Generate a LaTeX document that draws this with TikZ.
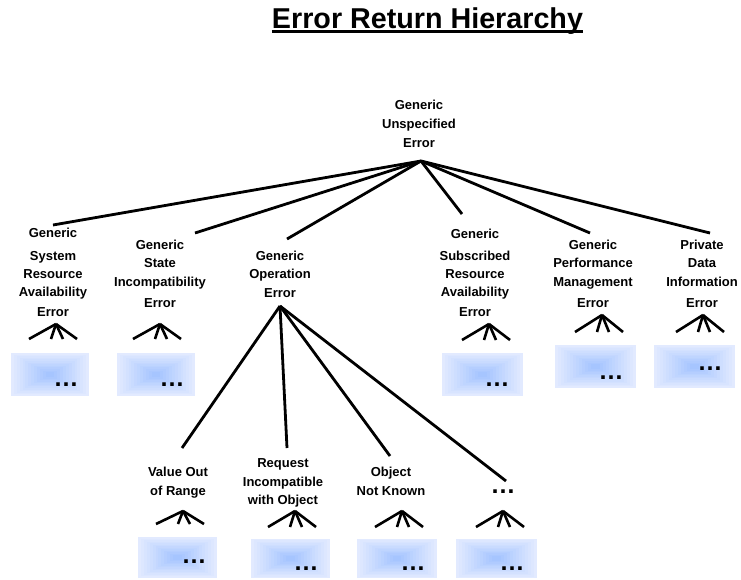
\documentclass[tikz,border=0pt]{standalone}
\usepackage{fontspec}
\setmainfont{Liberation Sans}
\usetikzlibrary{calc}

\definecolor{boxedge}{RGB}{226,234,255}
\definecolor{boxcore}{RGB}{166,197,255}

\tikzset{
  errlabel/.style={font=\fontsize{13}{18.5}\selectfont\bfseries, align=center,
    inner sep=0pt, anchor=north},
  link/.style={line width=2.8pt},
  leg/.style={line width=2.6pt},
  dots/.style={font=\fontsize{25}{25}\selectfont\bfseries, inner sep=0pt, anchor=base},
  % rectangular gradient: nested rectangles shading from the rim to the core
  gbox/.style={inner sep=0pt, outer sep=0pt,
    path picture={
      \foreach \i in {0,...,12}{
        \pgfmathtruncatemacro\p{\i*100/12}
        \fill[boxcore!\p!boxedge]
          ($(path picture bounding box.south west)!{\i*0.037}!(path picture bounding box.north east)$)
          rectangle
          ($(path picture bounding box.north east)!{\i*0.037}!(path picture bounding box.south west)$);
      }}},
  % small fan of four strokes below an error class
  pics/fan/.style={code={
    \draw[leg] (0,0) -- (-27,#1);
    \draw[leg] (0,0) -- (-5,#1);
    \draw[leg] (0,0) -- (7,#1);
    \draw[leg] (0,0) -- (21,#1);
  }}
}

\begin{document}
\begin{tikzpicture}[x=1pt,y=-1pt]
\useasboundingbox (0,0) rectangle (741,579);
\fill[white] (0,0) rectangle (741,579);

% title
\node[font=\fontsize{28.7}{30}\selectfont\bfseries, inner sep=0pt, anchor=base]
  (title) at (427.5,28.3) {Error Return Hierarchy};
\draw[line width=3pt] ([yshift=-3.3pt]title.base west) -- ([yshift=-3.3pt]title.base east);

% root class
\node[errlabel] (root) at (419,100) {Generic\\[0.5pt]Unspecified\\[0.5pt]Error};
\coordinate (hub) at (421,161);

% first level classes
\node[errlabel] (sys)  at (53,228)  {Generic\\[4.5pt]System\\[-0.5pt]Resource\\[-0.5pt]Availability\\[1.5pt]Error};
\node[errlabel] (state) at (160,240) {Generic\\[-0.5pt]State\\[0.5pt]Incompatibility\\[2.5pt]Error};
\node[errlabel] (oper) at (280,251) {Generic\\[-0.5pt]Operation\\[0.5pt]Error};
\node[errlabel] (subs) at (475,229) {Generic\\[3.5pt]Subscribed\\[-0.5pt]Resource\\[-0.5pt]Availability\\[1.5pt]Error};
\node[errlabel] (perf) at (593,240) {Generic\\[-0.5pt]Performance\\[0.5pt]Management\\[2.5pt]Error};
\node[errlabel] (priv) at (702,240) {Private\\[-0.5pt]Data\\[0.5pt]Information\\[2.5pt]Error};

\coordinate (sys-in)   at (53,225);
\coordinate (state-in) at (195,233);
\coordinate (oper-in)  at (287,239);
\coordinate (subs-in)  at (462,214);
\coordinate (perf-in)  at (590,233);
\coordinate (priv-in)  at (710,233);

\foreach \c in {sys,state,oper,subs,perf,priv}
  \draw[link] (hub) -- (\c-in);

% operation error subclasses
\coordinate (ophub) at (280,306);
\node[errlabel] (value) at (178,467) {Value Out\\[0.5pt]of Range};
\node[errlabel] (req)   at (283,458) {Request\\[0.5pt]Incompatible\\[-0.5pt]with Object};
\node[errlabel] (obj)   at (391,467) {Object\\[0.5pt]Not Known};
\node[dots] (more) at (503,493) {…};

\coordinate (value-in) at (182,448);
\coordinate (req-in)   at (287,448);
\coordinate (obj-in)   at (390,456);
\coordinate (more-in)  at (506,481);

\foreach \c in {value,req,obj,more}
  \draw[link] (ophub) -- (\c-in);

% fans below the leaf classes
\pic at (56,324)  {fan=15};
\pic at (160,324) {fan=15};
\pic at (489,324) {fan=16};
\pic at (602,315) {fan=17};
\pic at (703,315) {fan=17};
\pic at (183,511) {fan=13};
\pic at (295,511) {fan=16};
\pic at (402,511) {fan=16};
\pic at (503,511) {fan=16};

% shaded boxes with further subclasses
\node[gbox, minimum width=78pt, minimum height=43pt] (sys-box)   at (50,374.5)   {};
\node[gbox, minimum width=78pt, minimum height=43pt] (state-box) at (156,374.5)  {};
\node[gbox, minimum width=81pt, minimum height=43pt] (subs-box)  at (482.5,374.5){};
\node[gbox, minimum width=81pt, minimum height=43pt] (perf-box)  at (595.5,366.5){};
\node[gbox, minimum width=81pt, minimum height=43pt] (priv-box)  at (694.5,366.5){};
\node[gbox, minimum width=79pt, minimum height=41pt] (value-box) at (177.5,557.5){};
\node[gbox, minimum width=79pt, minimum height=39pt] (req-box)   at (290.5,558.5){};
\node[gbox, minimum width=80pt, minimum height=39pt] (obj-box)   at (397,558.5)  {};
\node[gbox, minimum width=81pt, minimum height=39pt] (more-box)  at (496.5,558.5){};

\node[dots] (sys-dots)   at (66,386)  {…};
\node[dots] (state-dots) at (172,386) {…};
\node[dots] (subs-dots)  at (497,386) {…};
\node[dots] (perf-dots)  at (611,379) {…};
\node[dots] (priv-dots)  at (710,370) {…};
\node[dots] (value-dots) at (194,563) {…};
\node[dots] (req-dots)   at (306,570) {…};
\node[dots] (obj-dots)   at (413,570) {…};
\node[dots] (more-dots)  at (512,570) {…};
\end{tikzpicture}
\end{document}
